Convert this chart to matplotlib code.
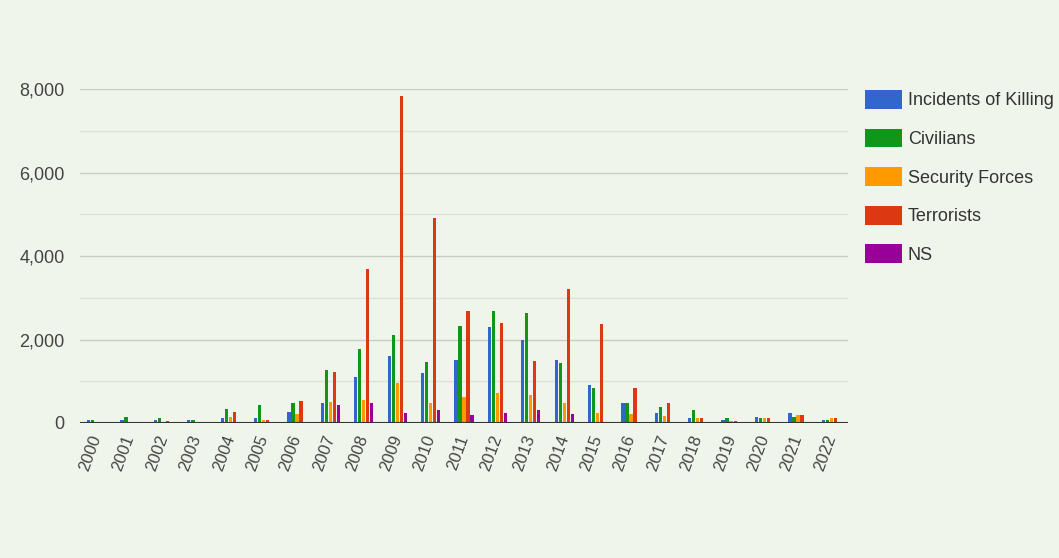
import matplotlib
matplotlib.use('Agg')
import matplotlib.pyplot as plt
import numpy as np
from matplotlib.ticker import FuncFormatter, MultipleLocator

# values
years = [str(y) for y in range(2000, 2023)]
incidents = [60, 70, 70, 70, 110, 120, 272, 472, 1110, 1605, 1190, 1509, 2292, 1988, 1509, 910, 472, 231, 112, 72, 152, 231, 72]
civilians = [70, 150, 110, 70, 328, 431, 472, 1269, 1765, 2108, 1468, 2323, 2690, 2642, 1430, 830, 472, 391, 311, 112, 128, 152, 72]
security = [20, 30, 30, 20, 136, 60, 216, 511, 551, 965, 472, 630, 711, 671, 472, 232, 216, 168, 112, 56, 128, 192, 112]
terrorists = [30, 20, 40, 20, 271, 70, 527, 1229, 3688, 7839, 4902, 2690, 2388, 1485, 3209, 2363, 830, 471, 112, 48, 128, 192, 112]
ns = [0, 0, 0, 0, 20, 10, 20, 431, 487, 232, 311, 192, 232, 311, 216, 31, 31, 30, 10, 5, 5, 5, 5]

series = [incidents, civilians, security, terrorists, ns]
labels = ['Incidents of Killing', 'Civilians', 'Security Forces', 'Terrorists', 'NS']
colors = ['#3366cc', '#109618', '#ff9900', '#dc3912', '#990099']

bg = '#f0f5ec'
plt.rcParams['font.family'] = ['Liberation Sans', 'DejaVu Sans']

fig = plt.figure(figsize=(10.59, 5.58), dpi=100, facecolor=bg)
ax = fig.add_axes([0.0755, 0.242, 0.7253, 0.598])
ax.set_facecolor(bg)

x = np.arange(len(years))
pitch = 0.12
for i in range(len(series)):
    ax.bar(x + (i - 2) * pitch, series[i], width=0.1, color=colors[i], label=labels[i], zorder=3)

ax.set_xlim(-0.5, len(years) - 0.5)
ax.set_ylim(0, 8000)
ax.yaxis.set_major_locator(MultipleLocator(2000))
ax.yaxis.set_minor_locator(MultipleLocator(1000))
ax.yaxis.set_major_formatter(FuncFormatter(lambda v, p: '{:,.0f}'.format(v)))
ax.grid(axis='y', which='major', color='#c9ccc4', linewidth=1, zorder=0)
ax.grid(axis='y', which='minor', color='#dde1d8', linewidth=1, zorder=0)
ax.axhline(0, color='#333333', linewidth=1.5, zorder=4)

for s in ax.spines.values():
    s.set_visible(False)
ax.tick_params(axis='y', which='both', length=0, pad=11, labelsize=13, labelcolor='#444444')
ax.tick_params(axis='x', length=0, pad=9, labelsize=12, labelcolor='#444444')
ax.set_xticks(x)
ax.set_xticklabels(years, rotation=70, ha='right', va='center', rotation_mode='anchor')

leg = fig.legend(loc='upper left', bbox_to_anchor=(865 / 1059, 1 - 90 / 558), frameon=False,
                 prop={'size': 13}, handlelength=2.05, handleheight=1.22, labelspacing=1.06,
                 handletextpad=0.33, borderpad=0, borderaxespad=0, labelcolor='#333333')

fig.savefig('out.png', dpi=100, facecolor=bg)
